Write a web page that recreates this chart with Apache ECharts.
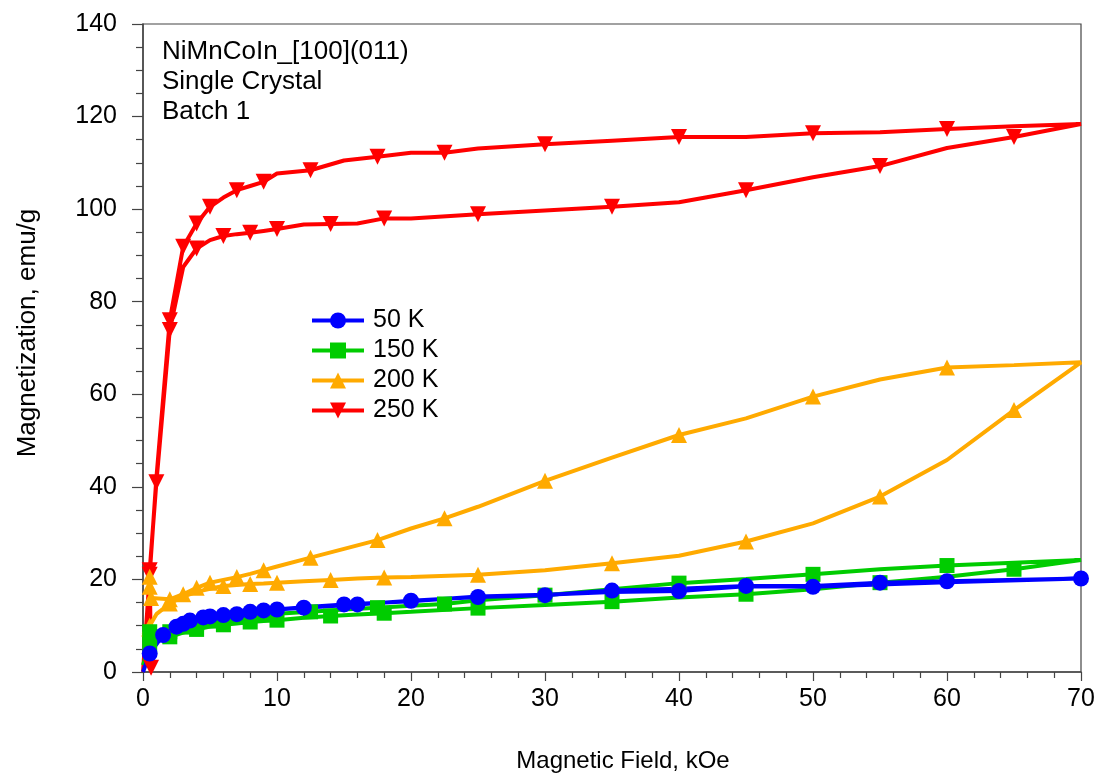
<!DOCTYPE html>
<html>
<head>
<meta charset="utf-8">
<script src="https://cdn.jsdelivr.net/npm/echarts@6/dist/echarts.min.js"></script>
<style>
html,body{margin:0;padding:0;background:#fff;overflow:hidden;}
#chart{width:1097px;height:773px;}
</style>
</head>
<body>
<div id="chart"></div>
<script>
// ---- data: [field kOe, magnetization emu/g] ----
// 250 K
const red250Up = [[0.6,0.9],[0.5,22.0],[1,41.0],[2,73.9],[3,87.5],[4,91.5],[5,93.3],[6,94.2],[7,94.6],[8,94.9],[9,95.3],[10,95.7],[12,96.7],[14,96.8],[16,96.9],[18,98.0],[20,98.0],[25,98.9],[30,99.7],[35,100.5],[40,101.5],[45,104.1],[50,106.9],[55,109.3],[60,113.2],[65,115.6],[70,118.4]];
const red250UpMarks = [0.6,0.5,1,2,4,6,8,10,14,18,25,35,45,55,65];
const red250Down = [[70,118.4],[65,117.9],[60,117.3],[55,116.6],[50,116.4],[45,115.6],[40,115.6],[35,114.8],[30,114.0],[25,113.1],[22.5,112.2],[20,112.2],[17.5,111.3],[15,110.5],[12.5,108.4],[10,107.7],[9,105.9],[8,105.0],[7,104.1],[6,102.5],[5,100.5],[4,96.9],[3,91.9],[2,76.0],[1,42.0],[0.5,21.0],[0,0]];
const red250DownMarks = [60,50,40,30,22.5,17.5,12.5,9,7,5,4,3,2,0.5];
// 200 K
const orange200Up = [[0,7.5],[0.5,10.0],[1,12.5],[2,14.8],[3,16.3],[4,17.3],[5,18.0],[6,18.6],[7,18.8],[8,19.0],[9,19.1],[10,19.3],[12,19.6],[14,19.9],[16,20.2],[18,20.4],[20,20.5],[25,21.0],[30,22.0],[35,23.5],[40,25.1],[45,28.2],[50,32.1],[55,37.9],[60,45.8],[65,56.6],[70,66.9]];
const orange200UpMarks = [0.5,2,6,8,10,14,18,25,35,45,55,65];
const orange200Down = [[70,66.9],[65,66.3],[60,65.8],[55,63.2],[50,59.5],[45,54.8],[40,51.2],[35,46.3],[30,41.3],[25,35.7],[22.5,33.2],[20,31.0],[17.5,28.5],[15,26.6],[12.5,24.7],[10,22.8],[9,22.0],[8,21.2],[7,20.5],[6,19.9],[5,19.3],[4,18.2],[3,16.8],[2,15.7],[0.6,16.0],[0.5,18.4],[0.5,20.6]];
const orange200DownMarks = [60,50,40,30,22.5,17.5,12.5,9,7,5,4,3,2,0.6,0.5];
// 150 K
const green150Up = [[0,1.5],[0.5,5.8],[1,6.6],[2,7.6],[3,8.5],[4,9.2],[5,9.8],[6,10.2],[7,10.5],[8,10.8],[9,11.0],[10,11.2],[12,11.7],[14,12.1],[16,12.4],[18,12.7],[20,13.0],[25,13.8],[30,14.5],[35,15.2],[40,16.1],[45,16.8],[50,17.9],[55,19.3],[60,20.6],[65,22.2],[70,24.2]];
const green150UpMarks = [0.5,2,4,6,8,10,14,18,25,35,45,55,65];
const green150Down = [[70,24.2],[65,23.6],[60,23.0],[55,22.2],[50,21.1],[45,20.1],[40,19.2],[35,17.9],[30,16.6],[25,15.5],[22.5,14.7],[20,14.3],[17.5,13.9],[15,13.5],[12.5,13.0],[10,12.6],[9,12.4],[8,12.1],[7,11.8],[6,11.4],[5,11.0],[4,10.4],[3,9.7],[2,8.7],[1,7.3],[0.5,8.7]];
const green150DownMarks = [60,50,40,30,22.5,17.5,12.5,9,7,5,4,3,2,0.5];
// 50 K
const blue50Up = [[0,0],[0.5,4.0],[1.5,8.0],[2.5,9.8],[3.5,11.1],[4.5,11.8],[6,12.3],[8,13.0],[10,13.5],[12,13.9],[16,14.6],[20,15.4],[25,16.2],[30,16.6],[35,17.6],[40,18.0],[45,18.6],[50,18.6],[55,19.3],[60,19.6],[70,20.2]];
const blue50UpMarks = [0.5,1.5,2.5,3.5,4.5,6,8,10,12,16,20,25,30,35,45,55,60,70];
const blue50Down = [[70,20.2],[60,19.4],[50,18.4],[45,18.5],[40,17.5],[35,17.3],[30,16.7],[25,16.3],[20,15.3],[15,14.6],[12,14.0],[9,13.3],[7,12.5],[5,12.0],[3,10.4],[2,9.3],[1,6.5],[0.5,4.0]];
const blue50DownMarks = [50,40,15,9,7,5,3];

const xTicks = {min:0, max:70, interval:10};
const yTicks = {min:0, max:140, interval:20};
const seriesNames = ['50 K','150 K','200 K','250 K'];
const annotation = ['NiMnCoIn_[100](011)','Single Crystal','Batch 1'];

// ---- build ----
function loop(up, upMarks, down, downMarks) {
  const items = [];
  const add = (p, marks) => {
    const it = {value: p};
    if (!marks.includes(p[0])) it.symbol = 'none';
    items.push(it);
  };
  up.forEach(p => add(p, upMarks));
  down.slice(1).forEach(p => add(p, downMarks));
  return items;
}

const FONT = 'Liberation Sans, Arial, Helvetica, sans-serif';
const downTri = 'path://M0,0 L10,0 L5,9 Z';

function mkSeries(name, color, symbol, size, data) {
  return {
    name, type:'line', data, symbol, symbolSize:size, showAllSymbol:true,
    clip:false, smooth:false,
    lineStyle:{color, width:4},
    itemStyle:{color, borderWidth:0},
    emphasis:{disabled:true}
  };
}

const chart = echarts.init(document.getElementById('chart'), null, {renderer:'canvas'});
chart.setOption({
  animation:false,
  backgroundColor:'#fff',
  textStyle:{fontFamily:FONT},
  grid:{left:143, right:16, top:24, bottom:101, show:true, borderColor:'#444', borderWidth:1.2,
        containLabel:false, outerBoundsMode:'none'},
  legend:{
    data:seriesNames, orient:'vertical', left:310, top:308, padding:0,
    itemWidth:52, itemHeight:20, itemGap:5,
    lineStyle:{width:4},
    textStyle:{fontSize:25, color:'#000', fontFamily:FONT, padding:[0,0,0,4]},
    selectedMode:false
  },
  xAxis:{
    type:'value', min:xTicks.min, max:xTicks.max, interval:xTicks.interval,
    name:'Magnetic Field, kOe', nameLocation:'middle', nameGap:77,
    nameTextStyle:{fontSize:24, color:'#000', fontFamily:FONT, padding:[0,0,0,22]},
    axisLine:{lineStyle:{color:'#444', width:1.5}},
    axisTick:{show:true, inside:false, length:9, lineStyle:{color:'#444', width:1.2}},
    minorTick:{show:true, splitNumber:5, length:6, lineStyle:{color:'#444', width:1.2}},
    axisLabel:{fontSize:25, color:'#000', margin:15, fontFamily:FONT},
    splitLine:{show:false}
  },
  yAxis:{
    type:'value', min:yTicks.min, max:yTicks.max, interval:yTicks.interval,
    name:'Magnetization, emu/g', nameLocation:'middle', nameGap:102,
    nameTextStyle:{fontSize:26, color:'#000', fontFamily:FONT, padding:[0,0,0,30]},
    axisLine:{lineStyle:{color:'#444', width:1.5}},
    axisTick:{show:true, inside:false, length:11, lineStyle:{color:'#444', width:1.2}},
    minorTick:{show:true, splitNumber:4, length:7, lineStyle:{color:'#444', width:1.2}},
    axisLabel:{fontSize:25, color:'#000', margin:26, fontFamily:FONT},
    splitLine:{show:false}
  },
  graphic: annotation.map((t, i) => ({
    type:'text', left:162, top:39 + i*30, silent:true,
    style:{text:t, fontSize:26, fill:'#000', fontFamily:FONT}
  })),
  series:[
    mkSeries('250 K', '#ff0000', downTri, 16, loop(red250Up, red250UpMarks, red250Down, red250DownMarks)),
    mkSeries('200 K', '#ffaa00', 'triangle', 16, loop(orange200Up, orange200UpMarks, orange200Down, orange200DownMarks)),
    mkSeries('150 K', '#00cc00', 'rect', 15, loop(green150Up, green150UpMarks, green150Down, green150DownMarks)),
    mkSeries('50 K', '#0000ff', 'circle', 16, loop(blue50Up, blue50UpMarks, blue50Down, blue50DownMarks))
  ]
});
</script>
</body>
</html>
